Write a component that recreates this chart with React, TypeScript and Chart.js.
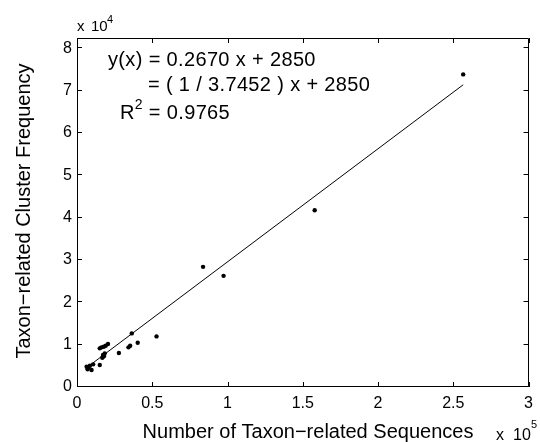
import React, { useEffect, useRef } from 'react';
import { Chart, registerables } from 'chart.js';

Chart.register(...registerables);

// Number of taxon-related sequences (x) and cluster frequency (y)
const seqCounts = [
  6380, 7040, 7500, 8550, 9670, 10720, 15130, 15130, 16250, 17760, 19080, 20590,
  17300, 18420, 17300, 18000, 16800, 27830, 34210, 35330, 36380, 40330, 52830,
  83750, 97370, 157900, 256580,
];
const clusterFreq = [
  4790, 4170, 4600, 5020, 4010, 5350, 5190, 9130, 9360, 9500, 9740, 10140,
  7550, 7950, 7140, 7300, 6900, 8020, 9360, 9740, 12660, 10450, 11950,
  28370, 26240, 41740, 73800,
];
const fitSlope = 0.267;
const fitIntercept = 2850;

const xTicks = [0, 50000, 100000, 150000, 200000, 250000, 300000];
const yTicks = [0, 10000, 20000, 30000, 40000, 50000, 60000, 70000, 80000];
const xLabels = ['0', '0.5', '1', '1.5', '2', '2.5', '3'];
const yLabels = ['0', '1', '2', '3', '4', '5', '6', '7', '8'];

const equationLine1 = 'y(x) = 0.2670 x + 2850';
const equationLine2 = '= ( 1 / 3.7452 ) x + 2850';
const rSquaredValue = ' = 0.9765';
const xTitle = 'Number of Taxon\u2212related Sequences';
const yTitle = 'Taxon\u2212related Cluster Frequency';

const FONT = '"Liberation Sans", Arial, Helvetica, sans-serif';

const decorPlugin = {
  id: 'matlabDecor',
  afterDraw(chart: any) {
    const { ctx, chartArea } = chart;
    const { left, right, top, bottom } = chartArea;
    const xs = chart.scales.x;
    const ys = chart.scales.y;
    ctx.save();
    ctx.strokeStyle = '#000';
    ctx.lineWidth = 1;
    ctx.beginPath();
    ctx.rect(Math.round(left) + 0.5, Math.round(top) + 0.5, Math.round(right - left) - 1, Math.round(bottom - top) - 1);
    ctx.stroke();
    const tl = 5;
    ctx.beginPath();
    xTicks.forEach((v) => {
      const px = Math.round(xs.getPixelForValue(v)) + 0.5;
      ctx.moveTo(px, bottom);
      ctx.lineTo(px, bottom - tl);
      ctx.moveTo(px, top);
      ctx.lineTo(px, top + tl);
    });
    yTicks.forEach((v) => {
      const py = Math.round(ys.getPixelForValue(v)) - 0.5;
      ctx.moveTo(left, py);
      ctx.lineTo(left + tl, py);
      ctx.moveTo(right, py);
      ctx.lineTo(right - tl, py);
    });
    ctx.stroke();

    ctx.fillStyle = '#000';
    ctx.textBaseline = 'alphabetic';
    ctx.textAlign = 'left';
    // exponent labels
    ctx.font = `15px ${FONT}`;
    ctx.fillText('x', 77, 31);
    ctx.fillText('10', 91, 31);
    ctx.font = `16px ${FONT}`;
    ctx.fillText('x', 496, 440);
    ctx.fillText('10', 513, 440);
    ctx.font = `11px ${FONT}`;
    ctx.fillText('4', 107, 23);
    ctx.fillText('5', 531, 428);

    // equation text
    ctx.font = `20px ${FONT}`;
    (ctx as any).letterSpacing = '0.35px';
    ctx.fillText(equationLine1, 108, 66);
    ctx.fillText(equationLine2, 148, 91);
    ctx.fillText('R', 120, 119);
    const rw = ctx.measureText('R').width;
    ctx.font = `14px ${FONT}`;
    ctx.fillText('2', 120 + rw, 109);
    const sw = ctx.measureText('2').width;
    ctx.font = `20px ${FONT}`;
    ctx.fillText(rSquaredValue, 120 + rw + sw, 119);
    (ctx as any).letterSpacing = '0px';

    // axis titles
    ctx.textAlign = 'center';
    ctx.textBaseline = 'middle';
    ctx.fillText(xTitle, 308, 432);
    ctx.translate(24, 211);
    ctx.rotate(-Math.PI / 2);
    ctx.fillText(yTitle, 0, 0);
    ctx.restore();
  },
};

export default function App() {
  const ref = useRef<HTMLCanvasElement | null>(null);
  useEffect(() => {
    document.body.style.margin = '0';
    const canvas = ref.current;
    if (!canvas) return;
    const xMin = Math.min(...seqCounts);
    const xMax = Math.max(...seqCounts);
    const chart = new Chart(canvas, {
      type: 'scatter',
      data: {
        datasets: [
          {
            label: 'data',
            data: seqCounts.map((x, i) => ({ x, y: clusterFreq[i] })),
            backgroundColor: '#000',
            borderColor: '#000',
            pointRadius: 2.2,
            pointBorderWidth: 0,
            showLine: false,
          },
          {
            label: 'fit',
            data: [xMin, xMax].map((x) => ({ x, y: fitSlope * x + fitIntercept })),
            borderColor: '#000',
            borderWidth: 1,
            pointRadius: 0,
            showLine: true,
          },
        ],
      },
      options: {
        responsive: false,
        animation: false,
        devicePixelRatio: 1,
        layout: { padding: { top: 38, right: 6, left: 0, bottom: 0 } },
        plugins: { legend: { display: false }, tooltip: { enabled: false }, title: { display: false } },
        scales: {
          x: {
            type: 'linear',
            min: 0,
            max: 300000,
            afterBuildTicks: (s: any) => { s.ticks = xTicks.map((v) => ({ value: v })); },
            afterFit: (s: any) => { s.height = 55; },
            grid: { display: false, drawTicks: false },
            border: { display: false },
            ticks: {
              color: '#000',
              padding: 7,
              maxRotation: 0,
              font: { family: FONT, size: 16 },
              callback: (v: any) => xLabels[xTicks.indexOf(Number(v))] ?? '',
            },
          },
          y: {
            type: 'linear',
            min: 0,
            max: 82400,
            afterBuildTicks: (s: any) => { s.ticks = yTicks.map((v) => ({ value: v })); },
            afterFit: (s: any) => { s.width = 77; },
            grid: { display: false, drawTicks: false },
            border: { display: false },
            ticks: {
              color: '#000',
              padding: 5,
              font: { family: FONT, size: 16 },
              callback: (v: any) => yLabels[yTicks.indexOf(Number(v))] ?? '',
            },
          },
        },
      },
      plugins: [decorPlugin],
    });
    return () => chart.destroy();
  }, []);
  return (
    <div style={{ position: 'fixed', left: 0, top: 0, width: 540, height: 442, background: '#fff' }}>
      <canvas ref={ref} width={540} height={442} />
    </div>
  );
}
